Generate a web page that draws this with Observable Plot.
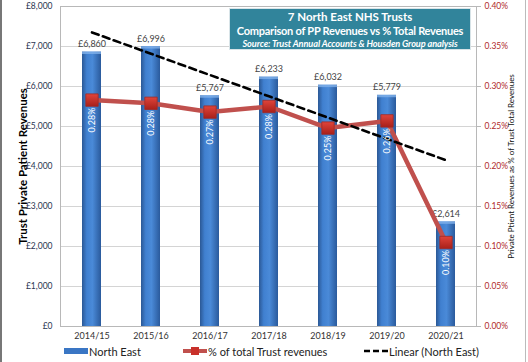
<!DOCTYPE html>
<html>
<head>
<meta charset="utf-8">
<script src="https://cdn.jsdelivr.net/npm/d3@7"></script>
<script src="https://cdn.jsdelivr.net/npm/@observablehq/plot@0.6"></script>
<style>
  html, body { margin: 0; padding: 0; background: #fff; }
  #wrap { position: relative; width: 528px; height: 362px; overflow: hidden; font-family: Lato, "Open Sans", sans-serif; }
  #wrap::before { content: ""; position: absolute; left: 0; top: 0; width: 2px; height: 362px; background: #777; }
  #wrap::after { content: ""; position: absolute; right: 2px; top: 0; width: 1px; height: 362px; background: #bbb; }
  #titlebox { position: absolute; left: 229px; top: 8px; width: 242px; height: 42px; background: #31849B; color: #fff; text-align: center; font-weight: bold; box-sizing: border-box; border: 1px solid #d8e4e8; white-space: nowrap; }
  #titlebox .t1 { font-size: 11.5px; line-height: 14px; margin-top: 1px; }
  #titlebox .t2 { font-size: 11px; line-height: 14px; letter-spacing: -0.25px; }
  #titlebox .t3 { font-size: 9.2px; line-height: 11px; font-style: italic; letter-spacing: -0.1px; }
  #legend { position: absolute; left: 0; top: 341px; width: 528px; height: 20px; font-size: 11px; color: #222; }
  #legend .item { position: absolute; top: 2px; display: flex; align-items: center; height: 16px; }
  #legend svg { margin-right: 1px; }
</style>
</head>
<body>
<div id="wrap">
  <div id="chart"></div>
  <div id="titlebox">
    <div class="t1">7 North East NHS Trusts</div>
    <div class="t2">Comparison of PP Revenues vs % Total Revenues</div>
    <div class="t3">Source: Trust Annual Accounts &amp; Housden Group analysis</div>
  </div>
  <div id="legend"></div>
</div>
<script>
const years = ["2014/15", "2015/16", "2016/17", "2017/18", "2018/19", "2019/20", "2020/21"];
const revenues = [6860, 6996, 5767, 6233, 6032, 5779, 2614];
const pctShown = ["0.28%", "0.28%", "0.27%", "0.28%", "0.25%", "0.26%", "0.10%"];
const pctValues = [0.283, 0.279, 0.268, 0.275, 0.248, 0.257, 0.105];
const leftTicks = [0, 1000, 2000, 3000, 4000, 5000, 6000, 7000, 8000];
const rightTicks = [0, 0.05, 0.10, 0.15, 0.20, 0.25, 0.30, 0.35, 0.40];

const pctToY = 20000; // 0.40% on the right axis == £8,000 on the left axis

const data = years.map((y, i) => ({year: y, rev: revenues[i], pct: pctValues[i], pctLabel: pctShown[i]}));

// linear trend of the revenues (least squares over index)
const n = revenues.length;
const xm = (n - 1) / 2;
const ym = d3.mean(revenues);
const slope = d3.sum(revenues, (v, i) => (i - xm) * (v - ym)) / d3.sum(revenues, (v, i) => (i - xm) ** 2);
const trend = years.map((y, i) => ({year: y, v: ym + slope * (i - xm)}));

const plot = Plot.plot({
  width: 528,
  height: 342,
  marginLeft: 60,
  marginRight: 52,
  marginTop: 6,
  marginBottom: 16,
  style: {fontFamily: "Lato, 'Open Sans', sans-serif", fontSize: "8.5px", background: "transparent", overflow: "visible"},
  x: {type: "band", domain: years, paddingInner: 0.68, paddingOuter: 0.34, label: null},
  y: {domain: [0, 8000], label: null},
  marks: [
    Plot.gridY(leftTicks, {stroke: "#d4d4d4", strokeOpacity: 1}),
    Plot.frame({stroke: "#b8b8b8"}),
    Plot.axisX({tickSize: 0, tickPadding: 6, fontSize: 9, color: "#333", label: null}),
    Plot.axisY({anchor: "left", ticks: leftTicks, tickSize: 0, tickPadding: 8, tickFormat: d => "£" + d3.format(",")(d), fill: "#2a3550",
      label: "Trust Private Patient Revenues", labelAnchor: "center", labelOffset: 42, labelArrow: "none"}),
    Plot.axisY({anchor: "right", ticks: rightTicks.map(t => t * pctToY), tickSize: 4, tickPadding: 4, stroke: "#b8b8b8",
      tickFormat: d => (d / pctToY).toFixed(2) + "%", fill: "#b02a2a",
      label: "Private Ptient Revenues as % of Trust Total Revenues", labelAnchor: "center", labelOffset: 37, labelArrow: "none"}),
    Plot.barY(data, {x: "year", y: "rev", fill: "url(#barGrad)"}),
    Plot.barY(data, {x: "year", y1: "rev", y2: d => d.rev - 60, fill: "#7fb0ea", fillOpacity: 0.8}),
    Plot.text(data, {x: "year", y: "rev", text: d => "£" + d3.format(",")(d.rev), dy: -8, fill: "#444", fontSize: 9}),
    Plot.line(data, {x: "year", y: d => d.pct * pctToY, stroke: "#c0504d", strokeWidth: 4.5}),
    Plot.dot(data, {x: "year", y: d => d.pct * pctToY, symbol: "square", r: 7, fill: "url(#dotGrad)", stroke: "#9e2a26", strokeWidth: 0.8}),
    Plot.line(trend, {x: "year", y: "v", stroke: "#000", strokeWidth: 2.6, strokeDasharray: "7,4.5"}),
    Plot.text(data, {x: "year", y: d => d.pct * pctToY, text: "pctLabel", rotate: -90, dy: 20, fill: "#fff", fontSize: 9})
  ]
});

const svg = d3.select(plot);
const defs = svg.insert("defs", ":first-child");
const g = defs.append("linearGradient").attr("id", "barGrad").attr("x1", 0).attr("x2", 1).attr("y1", 0).attr("y2", 0);
g.append("stop").attr("offset", "0%").attr("stop-color", "#2b5895");
g.append("stop").attr("offset", "25%").attr("stop-color", "#4080d0");
g.append("stop").attr("offset", "55%").attr("stop-color", "#4a8ad8");
g.append("stop").attr("offset", "100%").attr("stop-color", "#2a5a9c");
const g2 = defs.append("linearGradient").attr("id", "dotGrad").attr("x1", 0).attr("x2", 0).attr("y1", 0).attr("y2", 1);
g2.append("stop").attr("offset", "0%").attr("stop-color", "#e0443a");
g2.append("stop").attr("offset", "100%").attr("stop-color", "#a8201a");

// axis title styling
svg.selectAll('g[aria-label="y-axis label"]').each(function() {
  const sel = d3.select(this);
  if (sel.text().startsWith("Trust")) {
    sel.attr("font-size", 11.5).attr("font-weight", "bold").attr("fill", "#000");
  } else {
    sel.attr("font-size", 8).attr("fill", "#111");
  }
});
document.getElementById("chart").appendChild(plot);

// legend
const legend = d3.select("#legend");
const items = [
  {x: 64, label: "North East", kind: "bar"},
  {x: 183, label: "% of total Trust revenues", kind: "line"},
  {x: 364, label: "Linear (North East)", kind: "dash"}
];
items.forEach(it => {
  const div = legend.append("div").attr("class", "item").style("left", it.x + "px");
  const s = div.append("svg").attr("width", 24).attr("height", 12);
  if (it.kind === "bar") {
    s.append("rect").attr("x", 0).attr("y", 3).attr("width", 24).attr("height", 6).attr("fill", "#3a76c4");
  } else if (it.kind === "line") {
    s.append("line").attr("x1", 0).attr("x2", 24).attr("y1", 6).attr("y2", 6).attr("stroke", "#c0504d").attr("stroke-width", 4);
    s.append("rect").attr("x", 8).attr("y", 2).attr("width", 8).attr("height", 8).attr("fill", "#c8302a");
  } else {
    s.append("line").attr("x1", 0).attr("x2", 24).attr("y1", 6).attr("y2", 6).attr("stroke", "#000").attr("stroke-width", 2.5).attr("stroke-dasharray", "6,3");
  }
  div.append("span").text(it.label);
});
</script>
</body>
</html>
